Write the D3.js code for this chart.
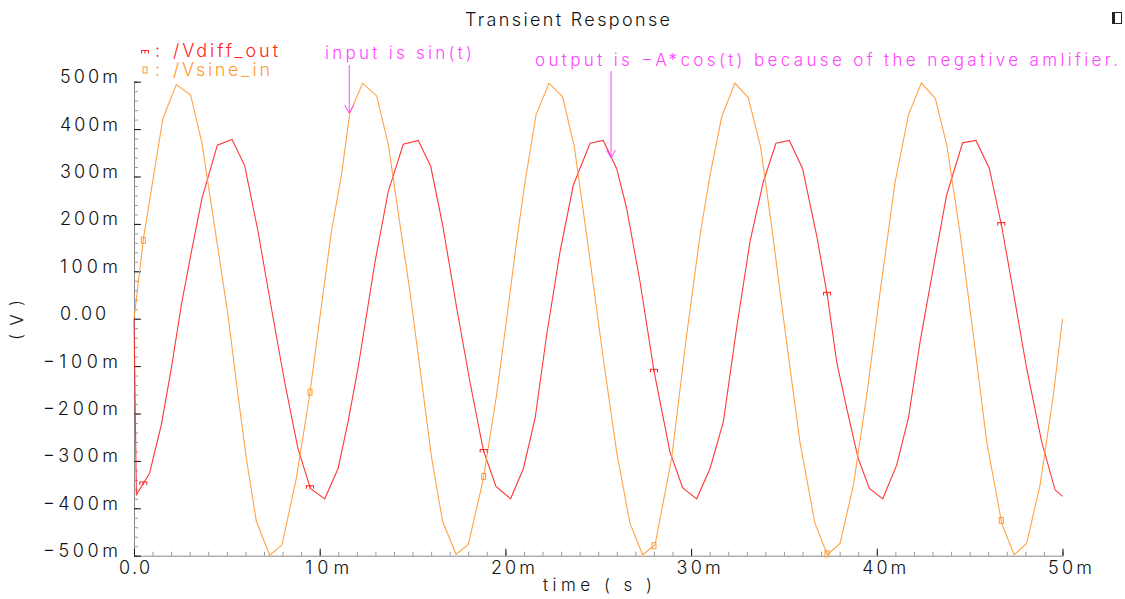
<!DOCTYPE html>
<html>
<head>
  <style>
    body {
      margin: 0;
      background: #fff;
    }
    text {
      font-family: "Inter", "DejaVu Sans", sans-serif;
      font-weight: 300;
    }
    .line {
      fill: none;
      stroke-width: 1.1;
      stroke-opacity: 0.9;
    }
  </style>
</head>
<body>
  <script src="https://d3js.org/d3.v7.min.js"></script>
  <script>
    // time in ms, values in V
    var tIn = [0, 0.52, 1.56, 2.28, 3.05, 3.66, 4.52, 5.06, 5.6, 6.05, 6.59, 7.31, 7.97, 8.74, 9.46,
      10.0, 10.63, 11.17, 11.62, 12.31, 13.07, 13.7, 14.33, 14.86, 15.4, 16.03, 16.62, 17.34, 18.0, 18.8,
      19.53, 20.07, 20.6, 21.06, 21.65, 22.35, 23.08, 23.71, 24.45, 25.27, 25.99, 26.71, 27.39, 28.06, 28.95,
      29.76, 30.48, 31.02, 31.65, 32.36, 33.08, 33.74, 34.33, 35.14, 35.86, 36.67, 37.34, 38.02, 38.74,
      39.46, 40.18, 40.99, 41.71, 42.4, 43.15, 43.77, 44.5, 45.2, 45.92, 46.73, 47.39, 48.07, 48.79, 49.51, 50.0];
    var vIn = [0, 0.172, 0.423, 0.494, 0.472, 0.37, 0.148, 0.008, -0.161, -0.295, -0.428, -0.499, -0.477, -0.337, -0.161,
      0.0, 0.184, 0.303, 0.433, 0.497, 0.470, 0.366, 0.197, 0.057, -0.105, -0.294, -0.428, -0.497, -0.477, -0.34,
      -0.16, 0.0, 0.162, 0.289, 0.43, 0.497, 0.468, 0.363, 0.155, -0.084, -0.281, -0.432, -0.498, -0.477, -0.295,
      -0.035, 0.176, 0.303, 0.426, 0.497, 0.466, 0.363, 0.197, -0.049, -0.26, -0.432, -0.498, -0.474, -0.351,
      -0.161, 0.057, 0.289, 0.431, 0.497, 0.465, 0.366, 0.176, -0.035, -0.26, -0.432, -0.498, -0.474, -0.351, -0.161, 0.0];

    var tOut = [0, 0.13, 0.84, 1.47, 2.01, 2.55, 3.09, 3.66, 4.49, 5.28, 5.96, 6.68, 7.4, 8.11, 8.83, 9.5,
      10.27, 10.99, 11.53, 12.06, 12.98, 13.69, 14.5, 15.31, 15.98, 16.62, 17.38, 18.09, 18.81, 19.49,
      20.28, 20.97, 21.6, 22.22, 22.94, 23.66, 24.56, 25.27, 25.99, 26.53, 27.25, 28.0, 28.86, 29.55,
      30.3, 31.02, 31.74, 32.45, 33.17, 33.89, 34.57, 35.29, 36.0, 36.76, 37.34, 37.84, 38.38, 39.0, 39.6,
      40.32, 41.07, 41.7, 42.33, 43.04, 43.76, 44.62, 45.34, 46.06, 46.73, 47.35, 48.07, 48.88, 49.6, 50.0];
    var vOut = [0, -0.371, -0.326, -0.224, -0.105, 0.029, 0.141, 0.254, 0.366, 0.378, 0.323, 0.184, 0.022, -0.133, -0.274, -0.358,
      -0.38, -0.316, -0.217, -0.105, 0.12, 0.268, 0.368, 0.376, 0.321, 0.198, 0.022, -0.133, -0.277, -0.354,
      -0.38, -0.316, -0.21, -0.035, 0.141, 0.282, 0.37, 0.376, 0.317, 0.233, 0.078, -0.11, -0.281, -0.357,
      -0.38, -0.316, -0.217, -0.02, 0.162, 0.289, 0.37, 0.376, 0.317, 0.176, 0.048, -0.091, -0.189, -0.295, -0.358,
      -0.38, -0.309, -0.21, -0.049, 0.106, 0.261, 0.371, 0.376, 0.317, 0.194, 0.057, -0.105, -0.26, -0.361, -0.375];

    var markerTimes = [0.5, 9.48, 18.83, 28.0, 37.32, 46.7];

    var yTicks = [0.5, 0.4, 0.3, 0.2, 0.1, 0, -0.1, -0.2, -0.3, -0.4, -0.5];
    var yTickLabels = ["500m", "400m", "300m", "200m", "100m", "0.00", "\u2212100m", "\u2212200m", "\u2212300m", "\u2212400m", "\u2212500m"];
    var xTicks = [0, 10, 20, 30, 40, 50];
    var xTickLabels = ["0.0", "10m", "20m", "30m", "40m", "50m"];

    var series = [
      {name: "/Vdiff_out", t: tOut, v: vOut, color: "#ff2222"},
      {name: "/Vsine_in", t: tIn, v: vIn, color: "#ff9933"}
    ];

    var notes = [
      {text: "input is sin(t)", t: 11.59, v: 0.434, tx: 325, ty: 59, w: 147, top: 65},
      {text: "output is \u2212A*cos(t) because of the negative amlifier.", t: 25.69, v: 0.339, tx: 535, ty: 66, w: 583, top: 71}
    ];

    var width = 1125, height = 599;
    var x = d3.scaleLinear().domain([0, 50]).range([134, 1062.5]);
    var y = d3.scaleLinear().domain([-0.5, 0.5]).range([555.7, 81.7]);

    var svg = d3.select("body").append("svg")
        .attr("width", width)
        .attr("height", height);

    // axes
    var yMinor = d3.range(-0.5, 0.5001, 0.02).map(d => +d.toFixed(2));
    var xMinor = d3.range(0, 50.001, 1);

    svg.append("g")
        .attr("transform", "translate(" + x(0) + ",0)")
        .call(d3.axisLeft(y).tickValues(yMinor).tickSize(-4).tickFormat(""))
        .call(g => g.selectAll("line").attr("stroke", "#999"))
        .call(g => g.select(".domain").attr("stroke", "#8a8a8a"));

    svg.append("g")
        .attr("transform", "translate(0," + y(-0.5) + ")")
        .call(d3.axisBottom(x).tickValues(xMinor).tickSize(-4).tickFormat(""))
        .call(g => g.selectAll("line").attr("stroke", "#999"))
        .call(g => g.select(".domain").attr("stroke", "#8a8a8a"));

    var yAxis = svg.append("g")
        .attr("transform", "translate(" + x(0) + ",0)")
        .call(d3.axisLeft(y).tickValues(yTicks).tickSize(-7).tickFormat((d, i) => yTickLabels[i]));
    yAxis.select(".domain").remove();
    yAxis.selectAll("line").attr("stroke", "#111");
    yAxis.selectAll("text")
        .attr("x", (d, i) => yTickLabels[i] == "0.00" ? -28 : -16)
        .attr("y", 1)
        .attr("dy", 0)
        .attr("textLength", (d, i) => yTickLabels[i] == "0.00" ? 46 : (yTickLabels[i].length == 5 ? 75 : 58))
        .attr("lengthAdjust", "spacing")
        .attr("font-size", 18)
        .attr("font-family", null)
        .attr("fill", "#111");

    var xAxis = svg.append("g")
        .attr("transform", "translate(0," + y(-0.5) + ")")
        .call(d3.axisBottom(x).tickValues(xTicks).tickSize(-7).tickFormat((d, i) => xTickLabels[i]));
    xAxis.select(".domain").remove();
    xAxis.selectAll("line").attr("stroke", "#111");
    xAxis.selectAll("text")
        .attr("y", 18)
        .attr("dy", 0)
        .attr("x", (d, i) => i == 0 ? 0 : 7)
        .attr("textLength", (d, i) => i == 0 ? 31 : 44)
        .attr("lengthAdjust", "spacing")
        .attr("font-size", 18)
        .attr("font-family", null)
        .attr("fill", "#111");

    // axis titles
    svg.append("text")
        .attr("x", 597.5).attr("y", 591)
        .attr("text-anchor", "middle")
        .attr("font-size", 17)
        .attr("textLength", 109).attr("lengthAdjust", "spacing")
        .attr("fill", "#111")
        .text("time ( s )");

    svg.append("text")
        .attr("transform", "translate(23,320) rotate(-90)")
        .attr("text-anchor", "middle")
        .attr("font-size", 17)
        .attr("textLength", 40).attr("lengthAdjust", "spacing")
        .attr("fill", "#111")
        .text("( V )");

    // title
    svg.append("text")
        .attr("x", 567.5).attr("y", 26)
        .attr("text-anchor", "middle")
        .attr("font-size", 18)
        .attr("textLength", 205).attr("lengthAdjust", "spacing")
        .attr("fill", "#111")
        .text("Transient Response");

    // small window icon top right
    svg.append("rect").attr("x", 1112.5).attr("y", 12.5).attr("width", 9).attr("height", 11)
        .attr("fill", "none").attr("stroke", "#222");
    svg.append("rect").attr("x", 1112).attr("y", 12).attr("width", 3).attr("height", 12).attr("fill", "#222");

    // lines
    var line = d3.line().x(d => x(d[0])).y(d => y(d[1]));
    svg.selectAll(".line")
        .data(series)
      .enter().append("path")
        .attr("class", "line")
        .attr("stroke", d => d.color)
        .attr("d", d => line(d.t.map((t, i) => [t, d.v[i]])));

    function marker(g, i, color) {
      if (i == 0) {
        g.append("path")
            .attr("d", "M-4,-1.5H4M-3.5,-1.5V1.5M0,-1.5V1.5M3.5,-1.5V1.5")
            .attr("stroke", color).attr("fill", "none").attr("stroke-width", 1);
      } else {
        g.append("rect")
            .attr("x", -2).attr("y", -3).attr("width", 4).attr("height", 6)
            .attr("stroke", color).attr("fill", "none").attr("stroke-width", 1);
      }
    }

    series.forEach((s, i) => {
      var interp = d3.scaleLinear().domain(s.t).range(s.v);
      markerTimes.forEach(t => {
        var g = svg.append("g").attr("transform", "translate(" + x(t) + "," + y(interp(t)) + ")");
        marker(g, i, s.color);
      });
    });

    // legend
    var legend = svg.selectAll(".legend")
        .data(series)
      .enter().append("g")
        .attr("class", "legend")
        .attr("transform", (d, i) => "translate(0," + (i * 19) + ")");
    legend.each(function(d, i) {
      var g = d3.select(this).append("g").attr("transform", "translate(145," + (i == 0 ? 52 : 51) + ")");
      marker(g, i, d.color);
    });
    legend.append("text")
        .attr("x", 155).attr("y", 57)
        .attr("font-size", 18)
        .attr("fill", d => d.color)
        .text(":");
    legend.append("text")
        .attr("x", 173).attr("y", 57)
        .attr("font-size", 18)
        .attr("textLength", (d, i) => i == 0 ? 105 : 97).attr("lengthAdjust", "spacing")
        .attr("fill", d => d.color)
        .text(d => d.name);

    // annotations
    var note = svg.selectAll(".note")
        .data(notes)
      .enter().append("g")
        .attr("class", "note");
    note.append("text")
        .attr("x", d => d.tx).attr("y", d => d.ty)
        .attr("font-size", 17)
        .attr("textLength", d => d.w).attr("lengthAdjust", "spacing")
        .attr("fill", "#ff44ff")
        .text(d => d.text);
    note.append("path")
        .attr("fill", "none")
        .attr("stroke", "#ff44ff")
        .attr("stroke-width", 1)
        .attr("d", d => {
          var px = x(d.t), py = y(d.v);
          return "M" + px + "," + d.top + "V" + py + "M" + (px - 4.5) + "," + (py - 8) + "L" + px + "," + py + "L" + (px + 4.5) + "," + (py - 8);
        });
  </script>
</body>
</html>
